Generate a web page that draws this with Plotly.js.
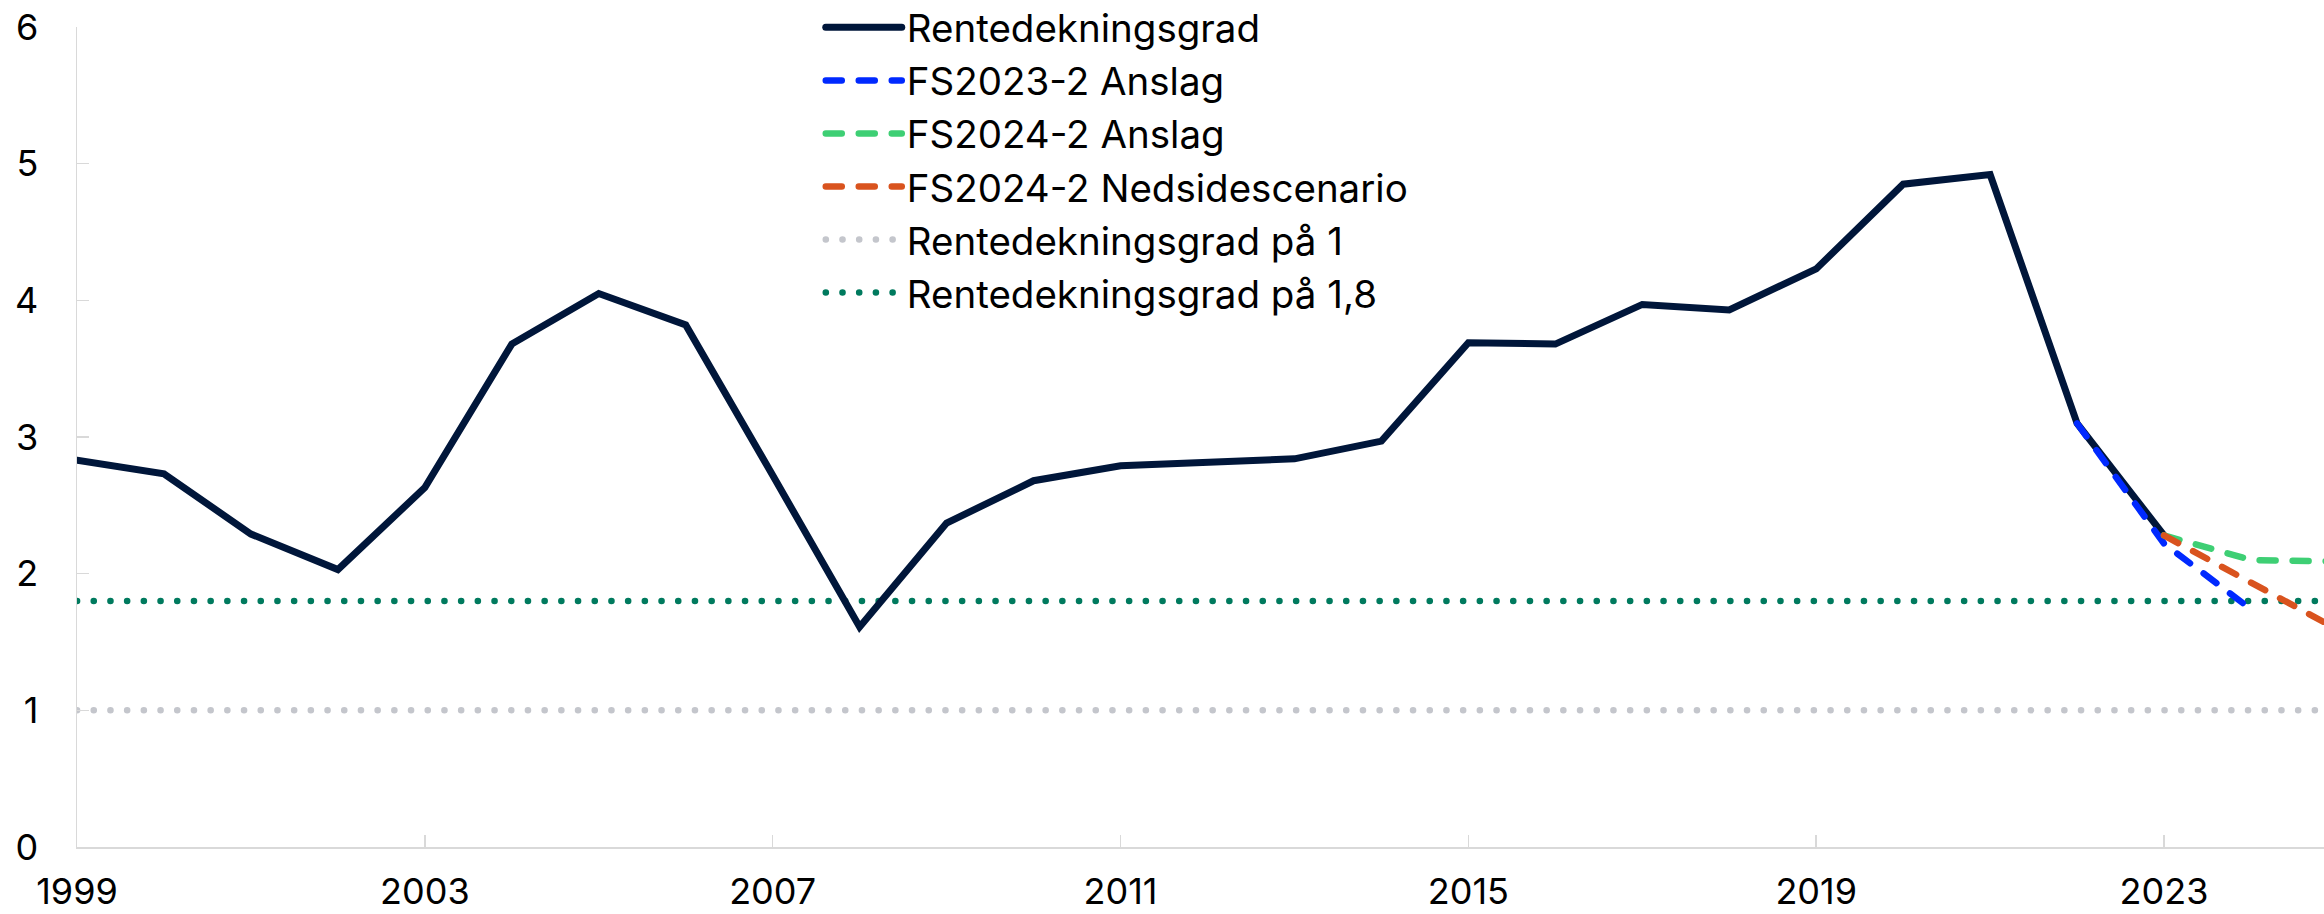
<!DOCTYPE html>
<html>
<head>
<meta charset="utf-8">
<script src="https://cdn.plot.ly/plotly-3.0.1.min.js"></script>
<style>
  html, body { margin: 0; padding: 0; background: #fff; }
  #chart { width: 2324px; height: 914px; }
  .js-line { stroke-linecap: round; }
</style>
</head>
<body>
<div id="chart"></div>
<script>
// Years and values
const years = [1999, 2000, 2001, 2002, 2003, 2004, 2005, 2006, 2007, 2008, 2009, 2010, 2011,
               2012, 2013, 2014, 2015, 2016, 2017, 2018, 2019, 2020, 2021, 2022, 2023];
const rentedekningsgrad = [2.83, 2.73, 2.29, 2.03, 2.63, 3.68, 4.05, 3.82, 2.72, 1.61, 2.37, 2.68, 2.79,
                           2.82, 2.84, 2.97, 3.69, 3.68, 3.97, 3.93, 4.23, 4.85, 4.92, 3.10, 2.28];

const fs2023Years = [2022, 2023, 2024];
const fs2023Anslag = [3.10, 2.22, 1.74];

const fs2024Years = [2023, 2024, 2025];
const fs2024Anslag = [2.28, 2.10, 2.09];
const fs2024Nedside = [2.28, 1.94, 1.59];

const refYears = [1999, 2025];
const ref1 = [1, 1];
const ref18 = [1.8, 1.8];

const names = ["Rentedekningsgrad", "FS2023-2 Anslag", "FS2024-2 Anslag",
               "FS2024-2 Nedsidescenario", "Rentedekningsgrad på 1", "Rentedekningsgrad på 1,8"];
const tickYears = [1999, 2003, 2007, 2011, 2015, 2019, 2023];

const DOT = "0.1px,16.6px";
const DASH = "16px,17px";

const traces = [
  { x: refYears, y: ref1, name: names[4], mode: "lines", legendrank: 5,
    line: { color: "#c4c6cc", width: 6.5, dash: DOT } },
  { x: refYears, y: ref18, name: names[5], mode: "lines", legendrank: 6,
    line: { color: "#007a5e", width: 6.5, dash: DOT } },
  { x: years, y: rentedekningsgrad, name: names[0], mode: "lines", legendrank: 1,
    line: { color: "#00163a", width: 7 } },
  { x: fs2023Years, y: fs2023Anslag, name: names[1], mode: "lines", legendrank: 2,
    line: { color: "#0029ff", width: 6.5, dash: DASH } },
  { x: fs2024Years, y: fs2024Anslag, name: names[2], mode: "lines", legendrank: 3,
    line: { color: "#3ecf74", width: 6.5, dash: DASH } },
  { x: fs2024Years, y: fs2024Nedside, name: names[3], mode: "lines", legendrank: 4,
    line: { color: "#d9531e", width: 6.5, dash: DASH } }
];

const plotW = 2324 - 77;
const layout = {
  width: 2324, height: 914,
  margin: { l: 77, r: 0, t: 27, b: 67, pad: 0, autoexpand: false },
  paper_bgcolor: "#fff", plot_bgcolor: "#fff",
  font: { family: "Inter, Liberation Sans, Arial, sans-serif", size: 36, color: "#000" },
  showlegend: true,
  legend: {
    x: 0.331, y: 1.038, xanchor: "left", yanchor: "top",
    bgcolor: "rgba(0,0,0,0)", borderwidth: 0,
    font: { size: 38.5, color: "#000" },
    itemwidth: 76, tracegroupgap: 0, traceorder: "normal"
  },
  xaxis: {
    range: [1999, 1999 + plotW / 86.96],
    tickmode: "array", tickvals: tickYears, ticktext: tickYears.map(String),
    ticks: "inside", ticklen: 12, tickwidth: 1.5, tickcolor: "#d9d9d9",
    showline: true, linecolor: "#d9d9d9", linewidth: 1.5,
    showgrid: false, zeroline: false,
    tickfont: { size: 36 }, ticklabelstandoff: 12
  },
  yaxis: {
    range: [0, 6], tickmode: "array", tickvals: [0, 1, 2, 3, 4, 5, 6],
    ticks: "inside", ticklen: 12, tickwidth: 1.5, tickcolor: "#d9d9d9",
    showline: true, linecolor: "#d9d9d9", linewidth: 1.5,
    showgrid: false, zeroline: false,
    tickfont: { size: 36 }, ticklabelstandoff: 30
  }
};

Plotly.newPlot("chart", traces, layout, { displayModeBar: false, staticPlot: true });
</script>
</body>
</html>
